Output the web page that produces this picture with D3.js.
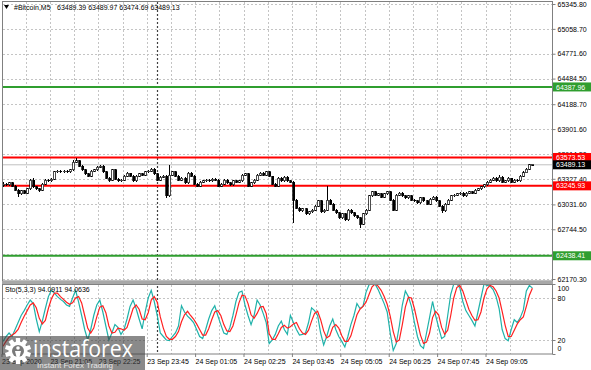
<!DOCTYPE html>
<html>
<head>
<meta charset="utf-8">
<script src="https://cdn.jsdelivr.net/npm/d3@7"></script>
<style>
  body { margin: 0; background: #fff; }
  svg { display: block; font-family: "Liberation Sans", Arial, sans-serif; }
</style>
</head>
<body>
<svg id="chart" width="591" height="370"></svg>
<script>
// ---- data ----
var SYMBOL = '#Bitcoin,M5';
var FIRST_OPEN = 63250;

var closes = [63267,63256,63279,63244,63198,63152,63187,63163,63210,63313,
  63233,63210,63198,63267,63313,63302,63325,63406,63417,63406,
  63417,63406,63429,63521,63533,63475,63429,63383,63359,63417,
  63429,63463,63475,63406,63336,63313,63429,63325,63302,63313,
  63359,63394,63359,63302,63359,63383,63371,63406,63417,63440,
  63383,63313,63348,63359,63129,63371,63406,63359,63313,63336,
  63279,63394,63359,63267,63244,63290,63302,63313,63302,63325,
  63313,63244,63267,63313,63279,63256,63302,63290,63302,63371,
  63383,63244,63279,63313,63371,63394,63371,63406,63359,63267,
  63244,63336,63302,63348,63302,63290,63082,62990,62956,62979,
  62921,62944,62967,63013,63071,62944,62967,63082,63036,62967,
  62933,62875,62921,62852,62967,62933,62898,62875,62805,62921,
  62967,63129,63175,63140,63152,63117,63152,63175,63082,62967,
  63140,63163,63129,63106,63129,63082,63071,63048,63106,63071,
  63036,63094,63117,63071,63013,62956,63036,63082,63129,63140,
  63152,63163,63129,63163,63175,63163,63198,63210,63233,63256,
  63290,63313,63336,63302,63348,63290,63302,63336,63290,63313,
  63302,63359,63400,63440,63489.39,63489.13];

var highs = [63285,63280,63290,63288,63252,63205,63198,63195,63222,63330,
  63336,63245,63225,63280,63325,63330,63340,63420,63430,63428,
  63432,63425,63440,63540,63567,63545,63485,63440,63395,63428,
  63445,63475,63490,63482,63415,63348,63440,63435,63335,63328,
  63370,63405,63400,63368,63372,63395,63392,63418,63430,63452,
  63448,63392,63360,63372,63370,63487,63420,63415,63368,63350,
  63345,63410,63405,63368,63278,63300,63315,63325,63322,63338,
  63335,63320,63280,63325,63320,63288,63312,63315,63312,63385,
  63398,63390,63290,63325,63385,63408,63402,63418,63415,63365,
  63278,63348,63345,63360,63355,63312,63298,63095,63002,62992,
  62990,62958,62980,63025,63085,63080,62980,63244,63092,63045,
  62975,62942,62935,62930,62980,62975,62942,62910,62885,62935,
  62980,63145,63190,63185,63165,63160,63165,63188,63182,63090,
  63152,63178,63170,63138,63140,63135,63092,63080,63118,63112,
  63080,63105,63130,63125,63080,63020,63048,63095,63140,63152,
  63165,63175,63170,63175,63188,63185,63210,63222,63245,63268,
  63302,63325,63350,63345,63371,63355,63315,63348,63342,63325,
  63322,63370,63412,63452,63500,63489.97];

var lows = [63238,63240,63245,63230,63185,63117,63140,63150,63155,63200,
  63220,63195,63180,63190,63255,63290,63295,63315,63395,63392,
  63398,63395,63398,63420,63510,63465,63415,63370,63345,63350,
  63405,63420,63452,63395,63320,63295,63305,63315,63285,63290,
  63305,63350,63345,63288,63295,63350,63360,63362,63398,63410,
  63372,63300,63305,63338,63106,63120,63360,63345,63300,63305,
  63265,63270,63348,63255,63228,63236,63282,63295,63290,63295,
  63300,63232,63235,63260,63268,63242,63248,63280,63282,63295,
  63362,63232,63236,63270,63305,63362,63360,63362,63348,63255,
  63232,63238,63292,63295,63290,63278,62817,62975,62940,62945,
  62905,62910,62935,62958,63005,62930,62935,62955,63025,62955,
  62918,62860,62865,62838,62845,62920,62885,62860,62759,62795,
  62910,62958,63120,63128,63130,63105,63108,63142,63070,62952,
  62960,63130,63118,63095,63098,63070,63060,63035,63040,63060,
  63025,63028,63085,63060,63000,62933,62948,63028,63075,63120,
  63132,63145,63118,63122,63155,63152,63155,63190,63202,63225,
  63248,63282,63305,63292,63295,63278,63282,63295,63280,63282,
  63292,63295,63350,63392,63432,63474.69];

// Stochastic (5,3,3): main line and signal line, one value per bar
var stochMain = [18,25,30,25,35,45,55,62,70,77,72,50,32,47,65,82,91,87,82,78,
  75,70,68,80,91,74,55,35,20,35,55,70,77,60,40,20,30,42,38,28,
  35,50,68,77,65,50,36,60,80,91,75,55,30,25,20,19,25,30,40,69,
  60,54,50,45,35,25,22,35,50,62,69,55,42,30,28,38,55,75,88,90,
  70,55,42,55,77,70,58,45,15,20,28,40,47,35,28,55,45,35,27,28,
  30,45,66,62,55,30,13,25,40,50,35,25,18,10,25,42,55,72,65,68,
  88,99,100,100,92,82,72,60,30,5,15,40,70,90,82,68,45,25,12,8,
  30,52,75,55,38,22,25,55,85,100,100,95,75,62,55,48,40,60,80,100,
  98,97,92,82,65,35,22,19,35,49,45,52,63,90,98,94.0911];

var stochSignal = [11,18,24,27,30,35,45,54,62,70,73,66,51,43,48,65,79,87,87,82,
  78,74,71,73,80,82,73,55,37,30,37,53,67,69,59,40,30,31,37,36,
  34,38,51,65,70,64,50,49,59,77,82,74,53,37,25,21,21,25,32,46,
  56,61,55,50,43,35,27,27,36,49,60,62,55,42,33,32,40,56,73,84,
  83,72,56,51,58,67,68,58,29,21,21,29,38,41,37,39,43,45,36,30,
  28,34,47,58,61,49,33,23,26,38,42,37,26,18,18,26,41,56,64,68,
  74,85,96,100,97,91,82,71,54,32,17,20,42,67,81,80,65,46,27,15,
  17,30,52,61,56,38,28,34,55,80,95,98,90,77,64,55,48,49,60,80,
  93,98,96,90,80,61,41,25,25,34,43,49,53,68,84,94.0636];

var priceTicks = [65345.80, 65058.70, 64771.60, 64484.50, 64188.70, 63901.60,
  63614.50, 63327.40, 63031.60, 62744.50, 62457.40, 62170.30];
var stochTicks = [100, 80, 20, 0];
var stochLevels = [80, 20];

var timeLabelBars = [0, 16, 32, 48, 64, 80, 96, 112, 128, 144, 160];
var timeLabels = ['23 Sep 2020', '23 Sep 21:05', '23 Sep 22:25', '23 Sep 23:45',
  '24 Sep 01:05', '24 Sep 02:25', '24 Sep 03:45', '24 Sep 05:05',
  '24 Sep 06:25', '24 Sep 07:45', '24 Sep 09:05'];
var daySeparatorBar = 51;

var levelPrices = [64387.96, 63573.53, 63245.93, 62438.41];
var levelKinds = ['green', 'red', 'red', 'green'];

// ---- styles ----
var COLORS = { green: '#2f9e2f', red: '#ff0000', grid: '#c4c4c4', frame: '#808080',
  main: '#20b2aa', signal: '#ff2020', bid: '#000000' };

var svg = d3.select('#chart');
var nBars = closes.length;

var x = d3.scaleLinear().domain([0, nBars - 1]).range([3, 532.4]);
var y = d3.scaleLinear().domain([62170.3, 65345.8]).range([279, 4]);
var ys = d3.scaleLinear().domain([0, 100]).range([354, 284]);

var PLOT_R = 552.5;

// clip paths
var defs = svg.append('defs');
defs.append('clipPath').attr('id', 'clipMain')
  .append('rect').attr('x', 3).attr('y', 2).attr('width', 549).attr('height', 279);
defs.append('clipPath').attr('id', 'clipSto')
  .append('rect').attr('x', 3).attr('y', 285).attr('width', 549).attr('height', 69);

// grid lines
var gridBars = d3.range(8, nBars, 8);
var grid = svg.append('g').attr('stroke', COLORS.grid).attr('stroke-dasharray', '2,2')
  .attr('shape-rendering', 'crispEdges');

grid.selectAll('.hg').data(priceTicks).enter().append('line')
  .attr('x1', 3).attr('x2', PLOT_R)
  .attr('y1', function(d) { return Math.round(y(d)) + 0.5; })
  .attr('y2', function(d) { return Math.round(y(d)) + 0.5; });

grid.selectAll('.vg').data(gridBars).enter().append('line')
  .attr('x1', function(d) { return Math.round(x(d) - 1.5) + 0.5; })
  .attr('x2', function(d) { return Math.round(x(d) - 1.5) + 0.5; })
  .attr('y1', 2).attr('y2', 281);

grid.selectAll('.vgs').data(gridBars).enter().append('line')
  .attr('x1', function(d) { return Math.round(x(d) - 1.5) + 0.5; })
  .attr('x2', function(d) { return Math.round(x(d) - 1.5) + 0.5; })
  .attr('y1', 285).attr('y2', 354);

grid.selectAll('.sl').data(stochLevels).enter().append('line')
  .attr('x1', 3).attr('x2', PLOT_R)
  .attr('y1', function(d) { return Math.round(ys(d)) + 0.5; })
  .attr('y2', function(d) { return Math.round(ys(d)) + 0.5; });

// day separator
var sepX = Math.round(x(daySeparatorBar)) + 0.5;
svg.append('line').attr('x1', sepX).attr('x2', sepX).attr('y1', 2).attr('y2', 354)
  .attr('stroke', '#404040').attr('stroke-width', 1.2).attr('stroke-dasharray', '2,2');

// main panel
var main = svg.append('g').attr('clip-path', 'url(#clipMain)');

// bid line
main.append('line').attr('x1', 3).attr('x2', PLOT_R)
  .attr('y1', y(closes[nBars - 1])).attr('y2', y(closes[nBars - 1]))
  .attr('stroke', '#c0c0c0').attr('stroke-width', 1);

// horizontal levels
main.selectAll('.lvl').data(levelPrices).enter().append('line')
  .attr('x1', 3).attr('x2', PLOT_R)
  .attr('y1', function(d) { return y(d); }).attr('y2', function(d) { return y(d); })
  .attr('stroke', function(d, i) { return COLORS[levelKinds[i]]; })
  .attr('stroke-width', 2);

// candles
var bars = closes.map(function(c, i) {
  return { i: i, o: i ? closes[i - 1] : FIRST_OPEN, h: highs[i], l: lows[i], c: c };
});

var candle = main.selectAll('.candle').data(bars).enter().append('g')
  .attr('shape-rendering', 'crispEdges');

candle.append('line')
  .attr('x1', function(d) { return Math.round(x(d.i)) + 0.5; })
  .attr('x2', function(d) { return Math.round(x(d.i)) + 0.5; })
  .attr('y1', function(d) { return y(d.h); })
  .attr('y2', function(d) { return y(d.l); })
  .attr('stroke', '#000');

candle.append('rect')
  .attr('x', function(d) { return Math.round(x(d.i)) - 0.5; })
  .attr('width', 2)
  .attr('y', function(d) { return y(Math.max(d.o, d.c)); })
  .attr('height', function(d) { return Math.max(0.8, Math.abs(y(d.o) - y(d.c))); })
  .attr('fill', function(d) { return d.c >= d.o ? '#fff' : '#000'; })
  .attr('stroke', '#000').attr('stroke-width', 0.7);

// stochastic panel
var sto = svg.append('g').attr('clip-path', 'url(#clipSto)');
var stoLine = function(arr) {
  return d3.line().x(function(d, i) { return x(i); }).y(function(d) { return ys(d); })(arr);
};
sto.append('path').attr('d', stoLine(stochMain)).attr('fill', 'none')
  .attr('stroke', COLORS.main).attr('stroke-width', 1.2);
sto.append('path').attr('d', stoLine(stochSignal)).attr('fill', 'none')
  .attr('stroke', COLORS.signal).attr('stroke-width', 1.2);

// frames
svg.append('rect').attr('x', 2.5).attr('y', 1.5).attr('width', 550).attr('height', 279.5)
  .attr('fill', 'none').attr('stroke', COLORS.frame);
svg.append('rect').attr('x', 2).attr('y', 281).attr('width', 551).attr('height', 3)
  .attr('fill', '#a8a8a8');
svg.append('rect').attr('x', 2.5).attr('y', 284.5).attr('width', 550).attr('height', 69.5)
  .attr('fill', 'none').attr('stroke', COLORS.frame);

// price axis
var yAxis = svg.append('g').attr('transform', 'translate(' + PLOT_R + ',0)')
  .call(d3.axisRight(y).tickValues(priceTicks).tickFormat(d3.format('.2f'))
    .tickSize(3).tickPadding(2));
yAxis.select('.domain').remove();
yAxis.selectAll('line').attr('stroke', COLORS.frame);
yAxis.selectAll('text').attr('font-size', 7).attr('fill', '#000')
  .attr('font-family', '"Liberation Sans", Arial, sans-serif');

// stochastic axis
var sAxis = svg.append('g').attr('transform', 'translate(' + PLOT_R + ',0)')
  .call(d3.axisRight(ys).tickValues(stochTicks).tickSize(3).tickPadding(2));
sAxis.select('.domain').remove();
sAxis.selectAll('line').attr('stroke', COLORS.frame);
sAxis.selectAll('text').attr('font-size', 7).attr('fill', '#000')
  .attr('font-family', '"Liberation Sans", Arial, sans-serif')
  .attr('y', function(d) { return d === 100 ? 4 : (d === 0 ? -6 : 0); });

// time axis
var xAxis = svg.append('g').attr('transform', 'translate(-1.5,354)')
  .call(d3.axisBottom(x).tickValues(timeLabelBars)
    .tickFormat(function(d, i) { return timeLabels[i]; }).tickSize(3).tickPadding(2));
xAxis.select('.domain').remove();
xAxis.selectAll('line').attr('stroke', COLORS.frame);
xAxis.selectAll('text').attr('font-size', 7).attr('fill', '#000')
  .attr('text-anchor', 'start').attr('dx', 0)
  .attr('font-family', '"Liberation Sans", Arial, sans-serif');

// price labels on the axis
var tags = levelPrices.map(function(p, i) { return { p: p, color: COLORS[levelKinds[i]] }; });
tags.push({ p: closes[nBars - 1], color: COLORS.bid });
var tag = svg.selectAll('.tag').data(tags).enter().append('g')
  .attr('transform', function(d) { return 'translate(553,' + y(d.p) + ')'; });
tag.append('rect').attr('x', 0).attr('y', -4.5).attr('width', 38).attr('height', 9)
  .attr('fill', function(d) { return d.color; });
tag.append('text').attr('x', 3).attr('y', 2.6).attr('font-size', 7).attr('fill', '#fff')
  .text(function(d) { return d3.format('.2f')(d.p); });

// header
svg.append('path').attr('d', 'M4,5 L9,5 L6.5,9 Z').attr('fill', '#000');
svg.append('text').attr('x', 14).attr('y', 10).attr('font-size', 7).attr('fill', '#000')
  .text(SYMBOL);
var last = bars[nBars - 1];
svg.append('text').attr('x', 57).attr('y', 10).attr('font-size', 7).attr('fill', '#000')
  .text([last.o, last.h, last.l, last.c].map(d3.format('.2f')).join(' '));

svg.append('text').attr('x', 5).attr('y', 292).attr('font-size', 7).attr('fill', '#000')
  .text('Sto(5,3,3) ' + d3.format('.4f')(stochMain[nBars - 1]) + ' ' +
    d3.format('.4f')(stochSignal[nBars - 1]));

// watermark
var wm = svg.append('g');
wm.append('rect').attr('x', 0).attr('y', 336).attr('width', 145).attr('height', 34)
  .attr('fill', 'rgba(60,60,60,0.6)');
var gear = wm.append('g').attr('transform', 'translate(18,351)');
var teeth = d3.range(10).map(function(k) { return k * 36; });
gear.selectAll('.tooth').data(teeth).enter().append('rect')
  .attr('x', -2.2).attr('y', -13).attr('width', 4.4).attr('height', 6)
  .attr('fill', '#fff').attr('transform', function(d) { return 'rotate(' + d + ')'; });
gear.append('circle').attr('r', 9.5).attr('fill', '#fff');
gear.append('circle').attr('r', 6).attr('fill', '#7a7a7a');
gear.append('circle').attr('cy', -3).attr('r', 1.8).attr('fill', '#fff');
gear.append('path').attr('d', 'M-3,0 L3,0 L1.5,6 L-1.5,6 Z').attr('fill', '#fff');
wm.append('text').attr('x', 33).attr('y', 357).attr('font-size', 23)
  .attr('font-family', '"Open Sans", sans-serif').attr('fill', '#fff')
  .attr('textLength', 100).attr('lengthAdjust', 'spacingAndGlyphs').text('instaforex');
wm.append('text').attr('x', 37).attr('y', 367.5).attr('font-size', 8)
  .attr('fill', '#e6e6e6').attr('textLength', 76).attr('lengthAdjust', 'spacingAndGlyphs')
  .text('Instant Forex Trading');
</script>
</body>
</html>
